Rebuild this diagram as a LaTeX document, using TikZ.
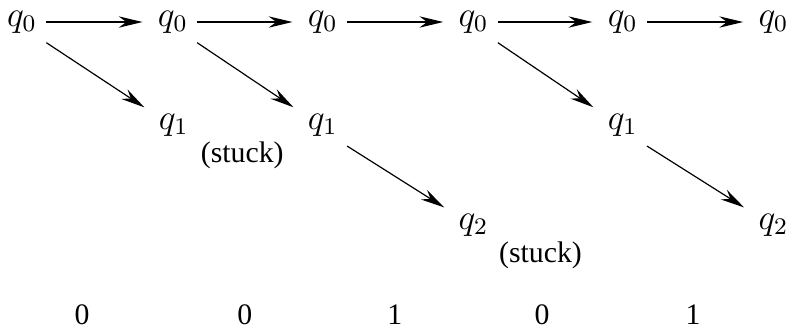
\documentclass[tikz,border=0pt]{standalone}
\usepackage{fontspec}
\setmainfont{Liberation Serif}
\usetikzlibrary{arrows.meta}
\tikzset{
    st/.style={inner sep=3pt, font=\large},
    move/.style={-{Stealth[length=8pt,width=3.8pt]}, thin, shorten >=2pt},
    sym/.style={inner sep=0pt}
}

\begin{document}
\begin{tikzpicture}
    \useasboundingbox (0,0) rectangle (9.29,-3.88);
    % q0 row
    \node[st] (a0) at (0.26,-0.26) {$q_0$};
    \node[st] (a1) at (2.04,-0.26) {$q_0$};
    \node[st] (a2) at (3.81,-0.26) {$q_0$};
    \node[st] (a3) at (5.59,-0.26) {$q_0$};
    \node[st] (a4) at (7.35,-0.26) {$q_0$};
    \node[st] (a5) at (9.13,-0.26) {$q_0$};
    % q1 and q2
    \node[st] (b1) at (2.05,-1.48) {$q_1$};
    \node[st] (b2) at (3.81,-1.48) {$q_1$};
    \node[st] (b4) at (7.35,-1.48) {$q_1$};
    \node[st] (c3) at (5.59,-2.66) {$q_2$};
    \node[st] (c5) at (9.13,-2.66) {$q_2$};
    \node (s1) at (2.86,-1.83) {(stuck)};
    \node (s2) at (6.38,-3.01) {(stuck)};

    \draw[move] (a0) -- (a1); \draw[move] (a1) -- (a2);
    \draw[move] (a2) -- (a3); \draw[move] (a3) -- (a4);
    \draw[move] (a4) -- (a5);
    \draw[move] (a0.south east) -- ([yshift=-2pt]b1.north west);
    \draw[move] (a1.south east) -- ([yshift=-2pt]b2.north west);
    \draw[move] (a3.south east) -- ([yshift=-2pt]b4.north west);
    \draw[move] (b2.south east) -- ([yshift=-2pt]c3.north west);
    \draw[move] (b4.south east) -- ([yshift=-2pt]c5.north west);

    % input symbols
    \node[sym] (i1) at (0.97,-3.72) {0};
    \node[sym] (i2) at (2.89,-3.72) {0};
    \node[sym] (i3) at (4.66,-3.72) {1};
    \node[sym] (i4) at (6.40,-3.72) {0};
    \node[sym] (i5) at (8.18,-3.72) {1};
\end{tikzpicture}
\end{document}
